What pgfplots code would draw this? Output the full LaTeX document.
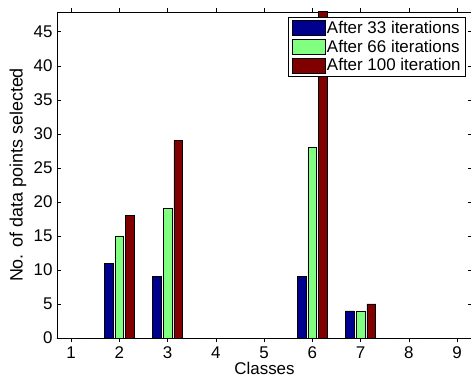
\documentclass[border=0pt]{standalone}
\usepackage{pgfplots}
\pgfplotsset{compat=1.18}
\usepackage{fontspec}
\setmainfont{Liberation Sans}
\definecolor{bblue}{RGB}{0,0,143}
\definecolor{bgreen}{RGB}{128,255,128}
\definecolor{bred}{RGB}{128,0,0}
\begin{document}
\begin{tikzpicture}
\begin{axis}[
  scale only axis, width=415bp, height=326bp,
  xmin=0.71, xmax=9.31, ymin=0, ymax=47.9,
  xtick={1,...,9}, ytick={0,5,...,45},
  tick align=inside, major tick length=4bp,
  tick style={line width=0.5bp, black},
  xticklabel style={font=\fontsize{17}{19}\selectfont, yshift=-1bp},
  yticklabel style={font=\fontsize{17}{19}\selectfont, xshift=-1bp},
  /pgf/number format/assume math mode=true,
  axis line style={line width=0.8bp},
  xlabel={Classes}, ylabel={No. of data points selected},
  xlabel style={font=\fontsize{17}{19}\selectfont, at={(axis description cs:0.5,-0.094)}, anchor=center},
  ylabel style={font=\fontsize{18}{20}\selectfont, at={(axis description cs:-0.094,0.5)}, anchor=center},
  ybar, bar width=0.178,
  legend style={at={(axis description cs:0.9855,0.985)}, anchor=north east,
    draw=black, line width=0.6bp, font=\fontsize{17}{19}\selectfont,
    inner xsep=3bp, inner ysep=2bp, row sep=1bp},
  legend cell align=left,
  legend image code/.code={\draw[#1,line width=0.5bp] (0bp,-7.5bp) rectangle (33bp,7.5bp);},
]
\addplot[fill=bblue, draw=black, line width=0.5bp, bar shift=-0.222] coordinates {(1,0)(2,11)(3,9)(4,0)(5,0)(6,9)(7,4)(8,0)(9,0)};
\addplot[fill=bgreen, draw=black, line width=0.5bp, bar shift=0] coordinates {(1,0)(2,15)(3,19)(4,0)(5,0)(6,28)(7,4)(8,0)(9,0)};
\addplot[fill=bred, draw=black, line width=0.5bp, bar shift=0.222] coordinates {(1,0)(2,18)(3,29)(4,0)(5,0)(6,48)(7,5)(8,0)(9,0)};
\legend{After 33 iterations, After 66 iterations, After 100 iteration}
\end{axis}
\pgfresetboundingbox
\path (-57bp,-39bp) rectangle (414bp,338bp);
\end{tikzpicture}
\end{document}
